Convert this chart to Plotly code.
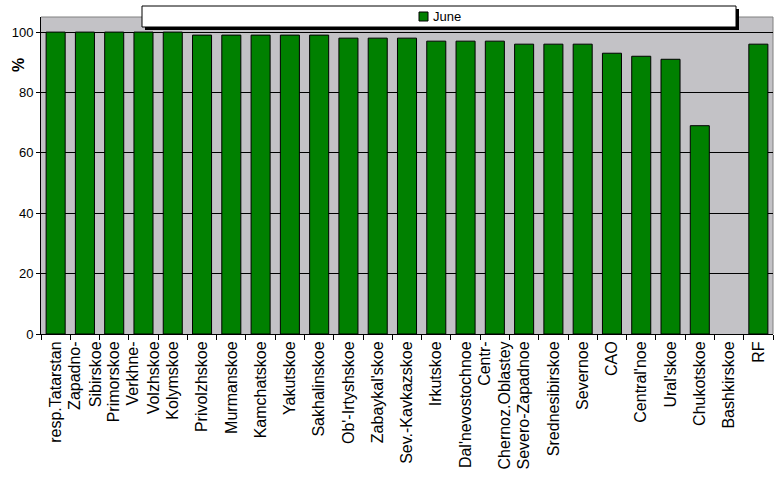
import plotly.graph_objects as go

categories = ["resp.Tatarstan", "Zapadno-<br>Sibirskoe", "Primorskoe", "Verkhne-<br>Volzhskoe",
              "Kolymskoe", "Privolzhskoe", "Murmanskoe", "Kamchatskoe", "Yakutskoe",
              "Sakhalinskoe", "Ob'-Irtyshskoe", "Zabaykal'skoe", "Sev.-Kavkazskoe",
              "Irkutskoe", "Dal'nevostochnoe", "Centr-<br>Chernoz.Oblastey", "Severo-Zapadnoe",
              "Srednesibirskoe", "Severnoe", "CAO", "Central'noe", "Ural'skoe",
              "Chukotskoe", "Bashkirskoe", "RF"]
june = [100, 100, 100, 100, 100, 99, 99, 99, 99, 99, 98, 98, 98, 97, 97, 97,
        96, 96, 96, 93, 92, 91, 69, None, 96]
y_ticks = [0, 20, 40, 60, 80, 100]
series_name = "June"

W, H = 777, 479
L, R, T, B = 41, 773, 17, 334  # plot area in pixels
FONT = "Liberation Sans, Arial, sans-serif"
GREEN = "#008000"


def px(x):
    return (x - L) / (R - L)


def py(y):
    return (B - y) / (B - T)


fig = go.Figure()
fig.add_trace(go.Bar(
    x=categories, y=june, name=series_name,
    marker=dict(color=GREEN, line=dict(color="black", width=1)),
))

fig.update_layout(
    width=W, height=H,
    margin=dict(l=L, r=W - R, t=T, b=H - B, pad=0, autoexpand=False),
    paper_bgcolor="white",
    plot_bgcolor="#C3C2C6",
    bargap=0.35,
    font=dict(family=FONT, color="black", size=13),
    showlegend=False,
    xaxis=dict(
        type="category", tickangle=-90, tickfont=dict(size=16, family=FONT),
        ticks="outside", ticklen=5, tickcolor="black", tickson="boundaries",
        showline=True, linecolor="black", linewidth=1, showgrid=False,
        automargin=False,
    ),
    yaxis=dict(
        range=[0, 105], tickvals=y_ticks, tickfont=dict(size=13, family=FONT),
        ticks="outside", ticklen=4, tickcolor="black",
        showline=True, linecolor="black", linewidth=1,
        showgrid=True, gridcolor="black", gridwidth=1,
        zeroline=False, automargin=False,
    ),
    shapes=[
        # plot border top/right
        dict(type="line", xref="paper", yref="paper", x0=0, x1=1, y0=1, y1=1,
             line=dict(color="#808080", width=1), layer="below"),
        dict(type="line", xref="paper", yref="paper", x0=1, x1=1, y0=0, y1=1,
             line=dict(color="#808080", width=1), layer="below"),
        # legend shadow
        dict(type="rect", xref="paper", yref="paper",
             x0=px(145), x1=px(739), y0=py(30), y1=py(9),
             fillcolor="black", line=dict(width=0), layer="above"),
        # legend box
        dict(type="rect", xref="paper", yref="paper",
             x0=px(142), x1=px(736), y0=py(27), y1=py(6),
             fillcolor="white", line=dict(color="black", width=1), layer="above"),
        # legend swatch
        dict(type="rect", xref="paper", yref="paper",
             x0=px(419), x1=px(428), y0=py(21), y1=py(12),
             fillcolor=GREEN, line=dict(color="black", width=1), layer="above"),
    ],
    annotations=[
        dict(text="<b>%</b>", xref="paper", yref="paper", x=px(19), y=py(65),
             showarrow=False, textangle=-90, font=dict(size=16, family=FONT),
             xanchor="center", yanchor="middle"),
        dict(text=series_name, xref="paper", yref="paper", x=px(431), y=py(16.5),
             showarrow=False, font=dict(size=13, family=FONT),
             xanchor="left", yanchor="middle"),
    ],
)

fig.write_html("out.html", config={"displayModeBar": False},
               post_script="document.body.style.margin='0px';")
